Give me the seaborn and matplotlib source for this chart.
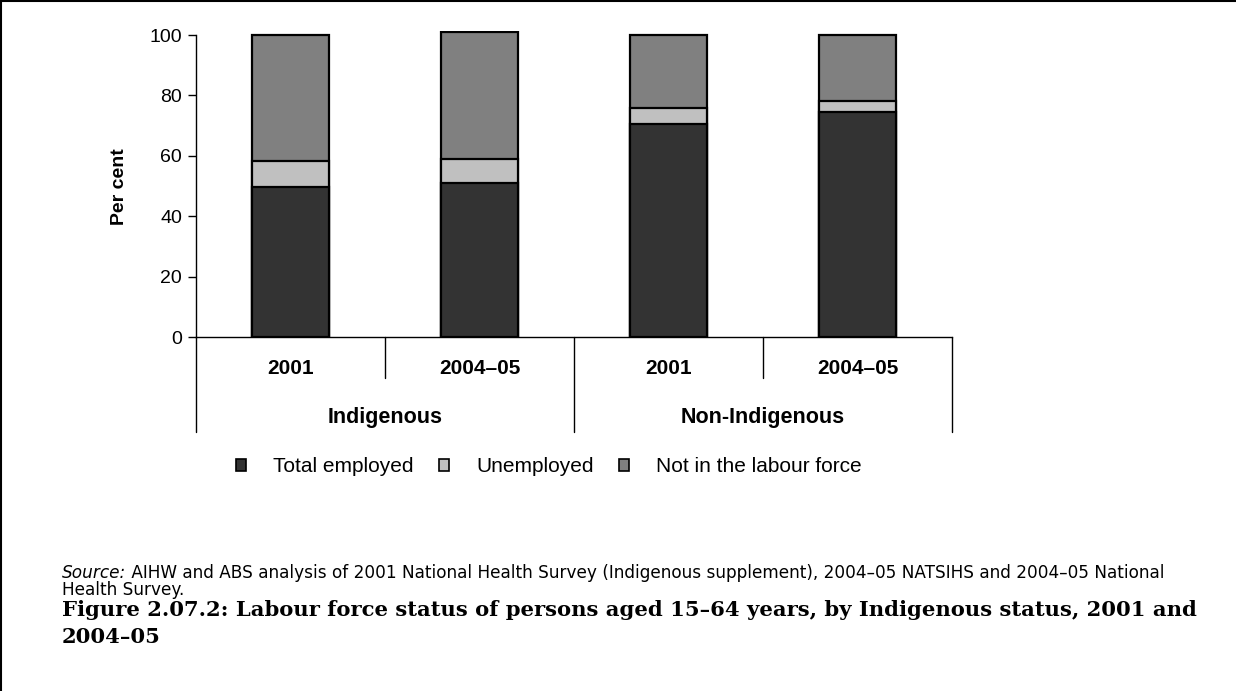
import matplotlib
matplotlib.use("Agg")
import matplotlib.pyplot as plt
import matplotlib.transforms as mtrans
from matplotlib.patches import Patch
from matplotlib.lines import Line2D
import seaborn as sns
import pandas as pd

# ---- data ----
groups = ["Indigenous", "Indigenous", "Non-Indigenous", "Non-Indigenous"]
years = ["2001", "2004–05", "2001", "2004–05"]
employed = [49.6, 50.9, 70.6, 74.6]
unemployed = [8.6, 7.9, 5.3, 3.4]
not_in_lf = [41.8, 42.3, 24.1, 22.0]
series_names = ["Total employed", "Unemployed", "Not in the labour force"]
series_colors = ["#333333", "#c0c0c0", "#808080"]
y_ticks = [0, 20, 40, 60, 80, 100]

sns.set_theme(style="white")
plt.rcParams["font.family"] = ["Liberation Sans", "DejaVu Sans"]

keys = [f"{g} {y}" for g, y in zip(groups, years)]
df = pd.DataFrame({"key": keys, "group": groups, "year": years,
                   series_names[0]: employed, series_names[1]: unemployed,
                   series_names[2]: not_in_lf})
df["c1"] = df[series_names[0]]
df["c2"] = df["c1"] + df[series_names[1]]
df["c3"] = df["c2"] + df[series_names[2]]

W, H = 1236, 691
fig = plt.figure(figsize=(W / 100, H / 100), dpi=100)
ax_h = 306.5
ax = fig.add_axes([196 / W, 1 - 337 / H, (952 - 196) / W, ax_h / H])

for col, color in zip(["c3", "c2", "c1"], series_colors[::-1]):
    sns.barplot(data=df, x="key", y=col, order=keys, color=color, width=0.41,
                edgecolor="black", linewidth=1.6, saturation=1, errorbar=None, ax=ax)

ax.set_xlim(-0.5, 3.5)
ax.set_ylim(0, 101.5)
for s in ["top", "right"]:
    ax.spines[s].set_visible(False)
ax.spines["left"].set_bounds(0, 100)
ax.spines["left"].set_color("black")
ax.spines["bottom"].set_color("black")
ax.spines["left"].set_linewidth(1.0)
ax.spines["bottom"].set_linewidth(1.0)

ax.set_yticks(y_ticks)
ax.set_yticklabels([str(t) for t in y_ticks], fontsize=14, color="black")
ax.tick_params(axis="y", left=True, length=6, width=1, color="black", direction="out", pad=4)

ax.set_xticks(range(len(keys)))
ax.set_xticklabels(years, fontsize=15, fontweight="bold", color="black")
ax.tick_params(axis="x", bottom=False, length=0, pad=16)
ax.set_xlabel("")
ax.set_ylabel("Per cent", fontsize=14, fontweight="bold", color="black")
ax.yaxis.set_label_coords((128 - 196) / 756, 0.49)

# category dividers below the axis
tr = mtrans.blended_transform_factory(ax.transData, ax.transAxes)
short_y = -(378 - 337) / ax_h
long_y = -(432 - 337) / ax_h
for xb in [-0.5, 1.5, 3.5]:
    ax.add_line(Line2D([xb, xb], [0, long_y], transform=tr, color="black", lw=1.0, clip_on=False))
for xb in [0.5, 2.5]:
    ax.add_line(Line2D([xb, xb], [0, short_y], transform=tr, color="black", lw=1.0, clip_on=False))
grp_y = -(417 - 337) / ax_h
for xc, g in [(0.5, "Indigenous"), (2.5, "Non-Indigenous")]:
    ax.text(xc, grp_y, g, transform=tr, ha="center", va="center", fontsize=15.5,
            fontweight="bold", color="black")

# legend
handles = [Patch(facecolor=c, edgecolor="black", linewidth=1.2) for c in series_colors]
fig.legend(handles, series_names, loc="center", bbox_to_anchor=(549 / W, 1 - 467 / H), ncol=3,
           frameon=False, fontsize=15, handlelength=0.5, handleheight=0.5, handletextpad=1.3,
           columnspacing=1.2, labelcolor="black")

# source note
fs_src = 12.2
src_fam = ["DejaVu Sans"]
src = fig.text(62 / W, 1 - 578 / H, "Source:", fontsize=fs_src, style="italic", va="baseline",
               color="black", family=src_fam)
plt.annotate(" AIHW and ABS analysis of 2001 National Health Survey (Indigenous supplement), 2004–05 NATSIHS and 2004–05 National",
             xy=(1, 0), xycoords=src, va="bottom", ha="left", fontsize=fs_src, color="black",
             family=src_fam, annotation_clip=False)
fig.text(62 / W, 1 - 595 / H, "Health Survey.", fontsize=fs_src, va="baseline", color="black",
         family=src_fam)

# figure title
title_fam = ["DejaVu Serif"]
fs_title = 15.2
fig.text(62 / W, 1 - 616 / H,
         "Figure 2.07.2: Labour force status of persons aged 15–64 years, by Indigenous status, 2001 and",
         fontsize=fs_title, fontweight="bold", family=title_fam, va="baseline", color="black")
fig.text(62 / W, 1 - 643 / H, "2004–05",
         fontsize=fs_title, fontweight="bold", family=title_fam, va="baseline", color="black")

# frame lines (top and left)
fig.add_artist(Line2D([0, 1], [1 - 1 / H, 1 - 1 / H], transform=fig.transFigure, color="black", lw=1.5))
fig.add_artist(Line2D([1 / W, 1 / W], [0, 1], transform=fig.transFigure, color="black", lw=1.5))

fig.savefig("out.png", dpi=100)
